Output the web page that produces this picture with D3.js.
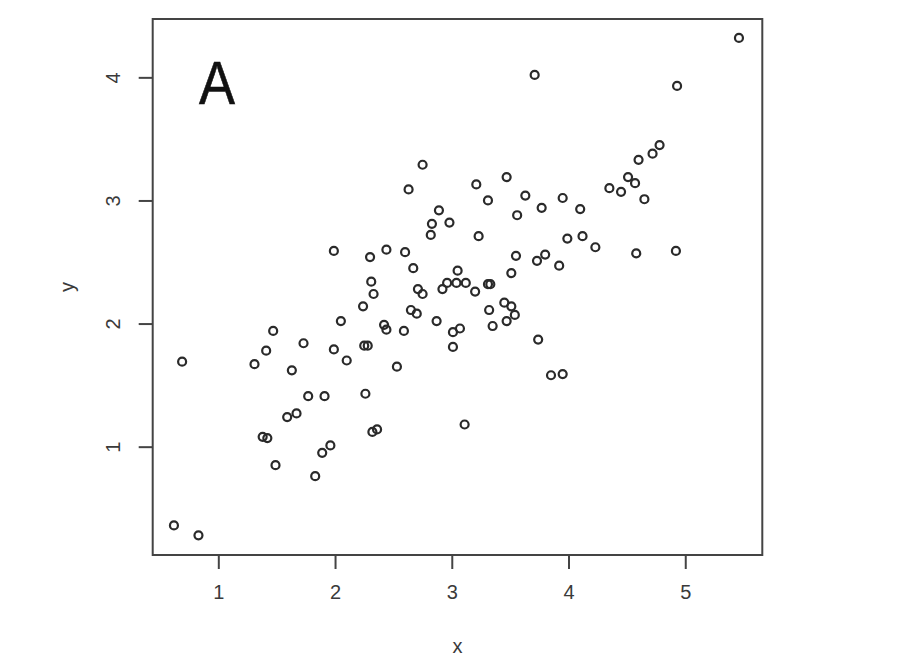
<!DOCTYPE html>
<html>
<head>
<meta charset="utf-8">
<script src="https://cdn.jsdelivr.net/npm/d3@7"></script>
<style>
  html, body { margin: 0; padding: 0; background: #fff; }
  svg { display: block; }
</style>
</head>
<body>
<svg id="chart" width="919" height="663"></svg>
<script>
// ---- data ----
const xValues = [
  0.62, 0.83, 0.69, 1.31, 1.41, 1.47, 1.63, 1.73, 1.38, 1.42,
  1.49, 1.59, 1.67, 1.77, 1.91, 1.83, 1.89, 1.96, 1.99, 2.05,
  1.99, 2.10, 2.24, 2.33, 2.31, 2.30, 2.44, 2.25, 2.28, 2.26,
  2.32, 2.36, 2.42, 2.44, 2.53, 2.59, 2.60, 2.67, 2.63, 2.75,
  2.89, 2.83, 2.98, 2.82, 2.65, 2.70, 2.71, 2.75, 2.87, 2.92,
  2.96, 3.04, 3.12, 3.20, 3.05, 3.01, 3.07, 3.01, 3.11, 3.31,
  3.33, 3.21, 3.47, 3.31, 3.63, 3.77, 3.95, 3.56, 3.23, 3.99,
  4.12, 4.23, 3.55, 3.73, 3.80, 3.92, 3.51, 3.32, 3.45, 3.51,
  3.54, 3.47, 3.35, 3.74, 3.85, 3.95, 3.71, 5.46, 4.93, 4.78,
  4.72, 4.60, 4.51, 4.57, 4.35, 4.45, 4.65, 4.58, 4.92, 4.10
];
const yValues = [
  0.36, 0.28, 1.69, 1.67, 1.78, 1.94, 1.62, 1.84, 1.08, 1.07,
  0.85, 1.24, 1.27, 1.41, 1.41, 0.76, 0.95, 1.01, 2.59, 2.02,
  1.79, 1.70, 2.14, 2.24, 2.34, 2.54, 2.60, 1.82, 1.82, 1.43,
  1.12, 1.14, 1.99, 1.95, 1.65, 1.94, 2.58, 2.45, 3.09, 3.29,
  2.92, 2.81, 2.82, 2.72, 2.11, 2.08, 2.28, 2.24, 2.02, 2.28,
  2.33, 2.33, 2.33, 2.26, 2.43, 1.93, 1.96, 1.81, 1.18, 2.32,
  2.32, 3.13, 3.19, 3.00, 3.04, 2.94, 3.02, 2.88, 2.71, 2.69,
  2.71, 2.62, 2.55, 2.51, 2.56, 2.47, 2.41, 2.11, 2.17, 2.14,
  2.07, 2.02, 1.98, 1.87, 1.58, 1.59, 4.02, 4.32, 3.93, 3.45,
  3.38, 3.33, 3.19, 3.14, 3.10, 3.07, 3.01, 2.57, 2.59, 2.93
];
const xTicks = [1, 2, 3, 4, 5];
const yTicks = [1, 2, 3, 4];
const xLabel = "x";
const yLabel = "y";
const panelLabel = "A";

// ---- layout ----
const svg = d3.select("#chart");
const box = { left: 152.7, right: 762.3, top: 19, bottom: 555 };

// plotting region (R-style, slightly extended beyond the data)
const x = d3.scaleLinear().domain([0.438, 5.66]).range([box.left, box.right]);
const y = d3.scaleLinear().domain([0.12, 4.474]).range([box.bottom, box.top]);

const axisColor = "#444";
const textColor = "#3a3a3a";
const font = "'Liberation Sans', Arial, Helvetica, sans-serif";

// points
svg.append("g")
  .selectAll("circle")
  .data(xValues.map((v, i) => [v, yValues[i]]))
  .join("circle")
  .attr("cx", d => x(d[0]))
  .attr("cy", d => y(d[1]))
  .attr("r", 4)
  .attr("fill", "none")
  .attr("stroke", "#2a2a2a")
  .attr("stroke-width", 2.2);

// box
svg.append("rect")
  .attr("x", box.left).attr("y", box.top)
  .attr("width", box.right - box.left).attr("height", box.bottom - box.top)
  .attr("fill", "none").attr("stroke", axisColor).attr("stroke-width", 2);

// x axis
const xAxis = svg.append("g")
  .attr("transform", `translate(0,${box.bottom})`)
  .call(d3.axisBottom(x).tickValues(xTicks).tickSize(14).tickPadding(16).tickFormat(d3.format("d")));
xAxis.select(".domain").remove();
xAxis.selectAll("line").attr("stroke", axisColor).attr("stroke-width", 2);
xAxis.selectAll("text").attr("fill", textColor).attr("font-family", font).attr("font-size", 20);

// y axis
const yAxis = svg.append("g")
  .attr("transform", `translate(${box.left},0)`)
  .call(d3.axisLeft(y).tickValues(yTicks).tickSize(14).tickFormat(d3.format("d")));
yAxis.select(".domain").remove();
yAxis.selectAll("line").attr("stroke", axisColor).attr("stroke-width", 2);
yAxis.selectAll("text")
  .attr("fill", textColor).attr("font-family", font).attr("font-size", 20)
  .attr("x", null).attr("dy", null)
  .attr("text-anchor", "middle")
  .attr("transform", "translate(-40,0) rotate(-90)")
  .attr("dy", "0.35em");

// axis titles
svg.append("text")
  .attr("x", (box.left + box.right) / 2).attr("y", 653)
  .attr("text-anchor", "middle")
  .attr("fill", textColor).attr("font-family", font).attr("font-size", 20)
  .text(xLabel);
svg.append("text")
  .attr("transform", `translate(74,${(box.top + box.bottom) / 2}) rotate(-90)`)
  .attr("text-anchor", "middle")
  .attr("fill", textColor).attr("font-family", font).attr("font-size", 20)
  .text(yLabel);

// panel label
svg.append("text")
  .attr("x", 199).attr("y", 104)
  .attr("fill", "#111").attr("font-family", font).attr("font-size", 61)
  .attr("stroke", "#111").attr("stroke-width", 0.6)
  .attr("textLength", 36).attr("lengthAdjust", "spacingAndGlyphs")
  .text(panelLabel);
</script>
</body>
</html>
